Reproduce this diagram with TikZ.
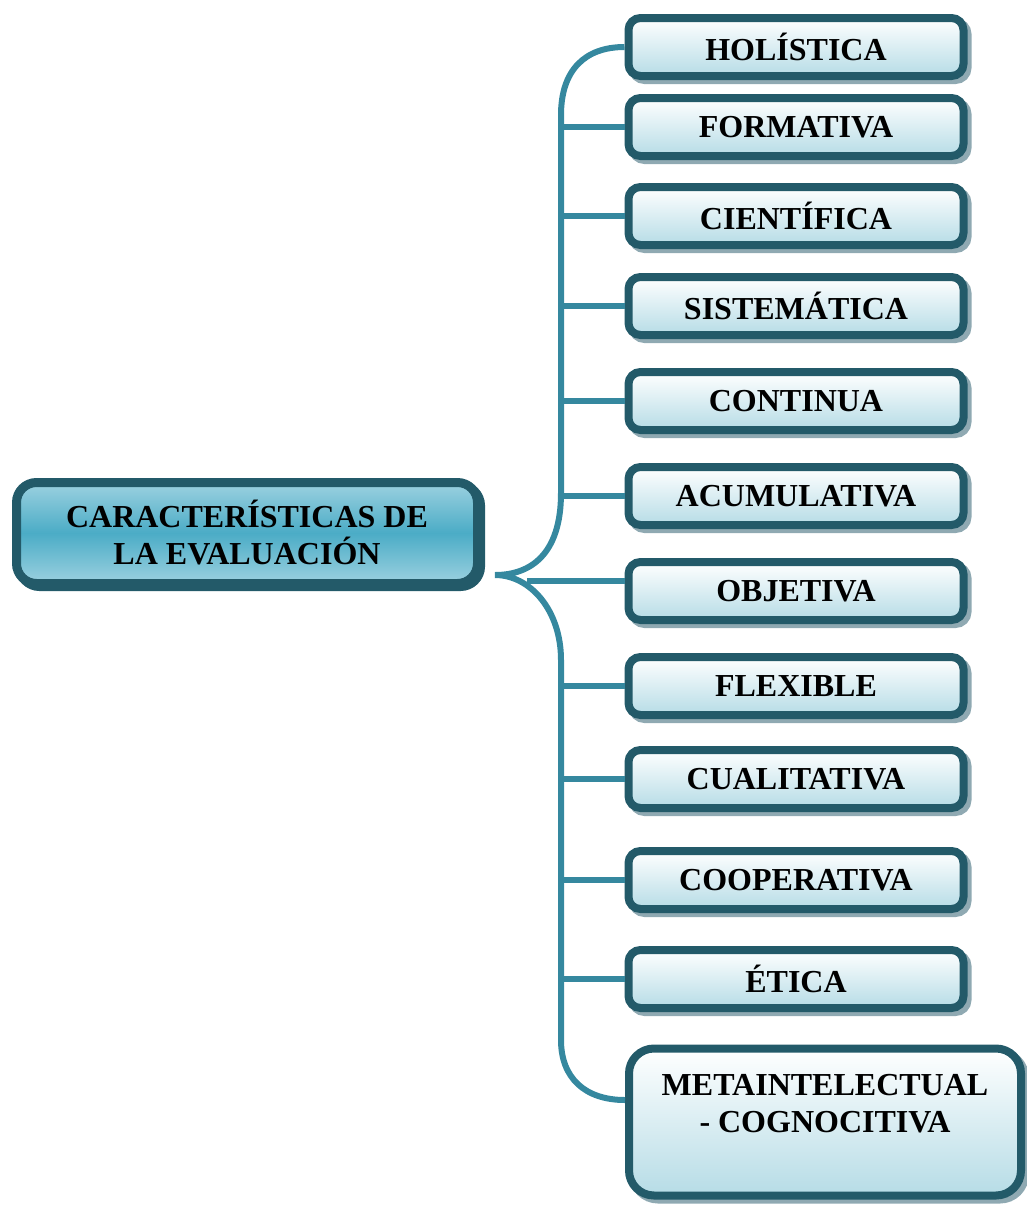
\documentclass[tikz,border=0pt]{standalone}
\usepackage{fontspec}
\setmainfont{Liberation Serif}
\usepackage{xcolor}
\usetikzlibrary{
    shapes,
    shadows,
    calc
}
\definecolor{boxborder}{HTML}{235A69}
\definecolor{linkblue}{HTML}{35889F}
\definecolor{boxlow}{HTML}{B6DCE6}
\definecolor{boxshadow}{HTML}{8FA9B2}
\definecolor{mainmid}{HTML}{4BACC6}
\definecolor{mainlight}{HTML}{9CD1E0}
\tikzset{%
    % Specifications for style of nodes:
    base/.style = {
        rectangle, rounded corners=12pt, draw=boxborder, line width=8pt,
        text centered, align=center,
        font=\fontsize{32}{37}\selectfont\bfseries
    },
    item/.style = {
        base,
        minimum width=335pt, minimum height=58pt,
        top color=white, bottom color=boxlow,
        drop shadow={shadow xshift=4pt, shadow yshift=-4pt,
            fill=boxshadow, draw=boxshadow, line width=8pt, opacity=1}
    },
    bigitem/.style = {item, rounded corners=25pt,
        minimum width=392pt, minimum height=147pt},
    mainbox/.style = {
        base, rounded corners=20pt, line width=9pt,
        minimum width=461pt, minimum height=101pt,
        top color=mainlight, bottom color=mainlight, middle color=mainmid,
        drop shadow={shadow xshift=3pt, shadow yshift=-3pt,
            fill=boxborder, draw=boxborder, line width=9pt, opacity=1}
    },
    link/.style = {draw=linkblue, line width=6pt}
}

\begin{document}
\begin{tikzpicture}[x=1pt, y=-1pt]
    \useasboundingbox (0,0) rectangle (1027,1205);
    \node[mainbox] (caract) at (247,533) {CARACTERÍSTICAS DE\\LA EVALUACIÓN};
    \node[item] (holistica) at (796,47) {HOLÍSTICA};
    \node[item] (formativa) at (796,127) {FORMATIVA};
    \node[item] (cientifica) at (796,216) {CIENTÍFICA};
    \node[item] (sistematica) at (796,306) {SISTEMÁTICA};
    \node[item] (continua) at (796,401) {CONTINUA};
    \node[item] (acumulativa) at (796,496) {ACUMULATIVA};
    \node[item] (objetiva) at (796,591) {OBJETIVA};
    \node[item] (flexible) at (796,686) {FLEXIBLE};
    \node[item] (cualitativa) at (796,779) {CUALITATIVA};
    \node[item] (cooperativa) at (796,880) {COOPERATIVA};
    \node[item] (etica) at (796,979) {ÉTICA};
    \node[bigitem] (meta) at (825,1122) {METAINTELECTUAL\\- COGNOCITIVA\\\mbox{}};

    \coordinate (spine) at (561,0);
    \coordinate (tip) at (495,575);
    \coordinate (fork) at (527,581);

    % the brace
    \draw[link] (holistica.west) .. controls (585,47) and (561,70) .. (561,115)
        -- (561,493) .. controls (561,555) and (530,575) .. (tip)
        .. controls (530,575) and (561,610) .. (561,660)
        -- (561,1040) .. controls (561,1078) and (585,1100) .. ([yshift=22pt]meta.west);
    \foreach \n in {formativa,cientifica,sistematica,continua,acumulativa,
                    flexible,cualitativa,cooperativa,etica}
        \draw[link] (\n.west -| spine) -- (\n.west);
    \draw[link] (fork) -- ([yshift=10pt]objetiva.west);
\end{tikzpicture}
\end{document}
